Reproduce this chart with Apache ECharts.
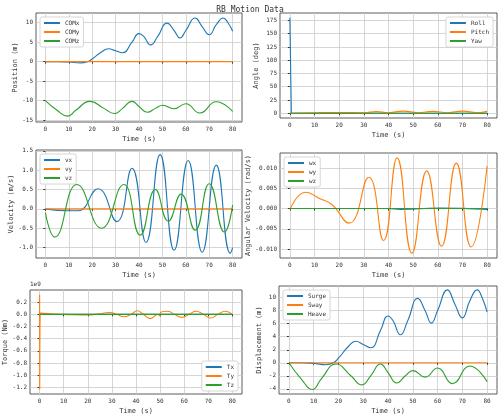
<!DOCTYPE html>
<html>
<head>
<meta charset="utf-8">
<script src="https://cdn.jsdelivr.net/npm/echarts@6/dist/echarts.min.js"></script>
<style>html,body{margin:0;padding:0;background:#fff}#main{width:500px;height:416px}</style>
</head>
<body>
<div id="main"></div>
<script>
// key points [time, value]
var comX = [[0,0],[5,0],[10,-0.1],[15,-0.3],[18,0],[20,0.7],[24,2.5],[27,3.3],[30,2.8],[33,2.3],[37,5],[40,7.2],[42,6.5],[45,4.3],[48,6.5],[52,9.9],[55,8],[57.5,6.1],[60,8],[64,11.2],[67,9],[70,6.9],[73,9.5],[76,11.2],[78,10],[80,7.8]];
var comY = [[0,0],[80,0]];
var comZ = [[0,-10],[5,-12.5],[9.5,-14],[13,-12.5],[19,-10.2],[25,-12],[29.5,-13.3],[33,-12],[37,-10.2],[40,-11.5],[43.5,-13],[47,-12],[50,-11.2],[55,-12.1],[60,-10.8],[66,-13.2],[73,-10.3],[80,-12.8]];
var roll = [[0,180],[0.5,180],[0.6,0],[80,0]];
var pitch = [[0,0],[10,1],[20,1.5],[30,1],[35,3],[40,1],[46,4],[52,1],[58,3.5],[64,1],[70,4],[76,1],[80,3.5]];
var yaw = [[0,0],[80,0]];
var vx = [[0,0],[10,-0.05],[14,-0.05],[22.5,0.52],[30.5,-0.33],[37,1.05],[43,-0.87],[49,1.4],[55,-1.07],[61,1.25],[67,-1.12],[73,1.13],[79,-1.15],[80,-1.0]];
var vy = [[0,0],[80,0]];
var vz = [[0,-0.1],[4,-0.73],[13.5,0.63],[24,-0.5],[33.5,0.63],[40.5,-0.68],[47,0.5],[52.5,-0.32],[58,0.38],[64,-0.55],[70,0.65],[76.5,-0.6],[80,0.1]];
var wx = [[0,0],[40,0],[45,-0.0002],[60,0.0001],[80,-0.0002]];
var wy = [[0,-0.0003],[6.5,0.004],[12,0.0025],[17,0.001],[24,-0.0036],[32,0.0077],[38,-0.0079],[43.5,0.0125],[49.5,-0.011],[55.5,0.0093],[61.5,-0.0093],[67.5,0.0112],[73.5,-0.0095],[80,0.0105]];
var wz = [[0,0],[80,0]];
var tx = [[0,0],[80,0]];
var ty = [[0,0.32],[0.05,-1.23],[0.3,0.02],[5,0.01],[10,0],[20,-0.01],[25,0.01],[29,0.03],[32,0],[35,-0.04],[38,0],[40.5,0.06],[43,0],[46,-0.07],[49,0],[50,-0.03],[50.1,0.02],[53,0.05],[56,0],[59,-0.05],[62,0],[65,0.05],[68,0],[71,-0.06],[74,0],[77,0.05],[80,0]];
var tz = [[0,0],[80,0]];
var surge = comX;
var sway = [[0,0],[80,0]];
var heave = [[0,0],[5,-2.5],[9.5,-4.1],[13,-2.5],[19,-0.2],[25,-2],[29.5,-3.4],[33,-2],[37,-0.2],[40,-1.5],[43.5,-3.1],[47,-2],[50,-1.2],[55,-2.2],[60,-0.8],[66,-3.2],[73,-0.5],[80,-2.9]];
var timeTicks = [0,10,20,30,40,50,60,70,80];

var colors = ['#1f77b4', '#ff7f0e', '#2ca02c'];
var font = 'DejaVu Sans Mono';
var panels = [
  {box:[36,13,242,122], y:'Position (m)', min:-15.5, max:12.5, ticks:[-15,-10,-5,0,5,10], gap:17, names:['COMx','COMy','COMz'], data:[comX,comY,comZ], leg:'tl'},
  {box:[280,13,497,118], y:'Angle (deg)', min:-9, max:189, ticks:[0,25,50,75,100,125,150,175], gap:20, names:['Roll','Pitch','Yaw'], data:[roll,pitch,yaw], leg:'tr'},
  {box:[36,150,242,258], y:'Velocity (m/s)', min:-1.27, max:1.52, ticks:[-1,-0.5,0,0.5,1,1.5], gap:20, fmt:1, names:['vx','vy','vz'], data:[vx,vy,vz], leg:'tl'},
  {box:[280,153,497,258], y:'Angular Velocity (rad/s)', min:-0.0122, max:0.0137, ticks:[-0.01,-0.005,0,0.005,0.01], gap:26, fmt:3, names:['wx','wy','wz'], data:[wx,wy,wz], leg:'tl'},
  {box:[30,290,242,395], y:'Torque (Nm)', min:-1.31, max:0.4, ticks:[-1.2,-1,-0.8,-0.6,-0.4,-0.2,0,0.2], gap:20, fmt:1, names:['Tx','Ty','Tz'], data:[tx,ty,tz], leg:'br'},
  {box:[279,286,497,395], y:'Displacement (m)', min:-4.8, max:11.8, ticks:[-4,-2,0,2,4,6,8,10], gap:16, names:['Surge','Sway','Heave'], data:[surge,sway,heave], leg:'tl'}
];

var grid = [], xAxis = [], yAxis = [], series = [], legend = [];
panels.forEach(function (p, i) {
  var b = p.box;
  grid.push({left:b[0], top:b[1], width:b[2]-b[0], height:b[3]-b[1], show:true, borderColor:'#333', borderWidth:0.8});
  xAxis.push({gridIndex:i, type:'value', min:-4, max:84, name:'Time (s)', nameLocation:'middle', nameGap:14,
    nameTextStyle:{fontFamily:font, fontSize:7, color:'#333'},
    axisLabel:{fontFamily:font, fontSize:6, color:'#333', margin:4, customValues:timeTicks},
    axisLine:{show:false}, axisTick:{show:true, length:2, customValues:timeTicks, lineStyle:{color:'#333'}},
    splitLine:{show:true, lineStyle:{color:'#ccc', width:0.8}}});
  yAxis.push({gridIndex:i, type:'value', min:p.min, max:p.max, name:p.y, nameLocation:'middle', nameGap:p.gap,
    nameTextStyle:{fontFamily:font, fontSize:7, color:'#333'},
    axisLabel:{fontFamily:font, fontSize:6, color:'#333', margin:3, customValues:p.ticks,
      formatter:function(v){ return p.fmt ? v.toFixed(p.fmt) : v; }},
    axisLine:{show:false}, axisTick:{show:true, length:2, customValues:p.ticks, lineStyle:{color:'#333'}},
    splitLine:{show:true, lineStyle:{color:'#ccc', width:0.8}}});
  p.names.forEach(function (n, k) {
    series.push({type:'line', name:n, xAxisIndex:i, yAxisIndex:i, data:p.data[k], smooth:(p.data[k].length>4)?0.5:false,
      showSymbol:false, lineStyle:{width:1.1, color:colors[k]}, itemStyle:{color:colors[k]}, z:3+k});
  });
  var lg = {data:p.names, orient:'vertical', itemWidth:16, itemHeight:2, itemGap:3, icon:'rect',
    textStyle:{fontFamily:font, fontSize:6, color:'#333'}, borderColor:'#ccc', borderWidth:0.8, borderRadius:2, padding:[3,4], backgroundColor:'#fff'};
  if (p.leg==='tl') { lg.left=b[0]+4; lg.top=b[1]+4; }
  if (p.leg==='tr') { lg.right=500-b[2]+4; lg.top=b[1]+4; }
  if (p.leg==='br') { lg.right=500-b[2]+4; lg.bottom=416-b[3]+4; }
  legend.push(lg);
});

var chart = echarts.init(document.getElementById('main'));
chart.setOption({
  animation:false,
  title:{text:'RB Motion Data', left:'center', top:1, textStyle:{fontFamily:font, fontSize:8, fontWeight:'normal', color:'#333'}},
  graphic:[{type:'text', left:30, top:281, style:{text:'1e9', fontFamily:font, fontSize:6, fill:'#333'}}],
  grid:grid, xAxis:xAxis, yAxis:yAxis, legend:legend, series:series
});
window.onresize = function () { chart.resize(); };
</script>
</body>
</html>
